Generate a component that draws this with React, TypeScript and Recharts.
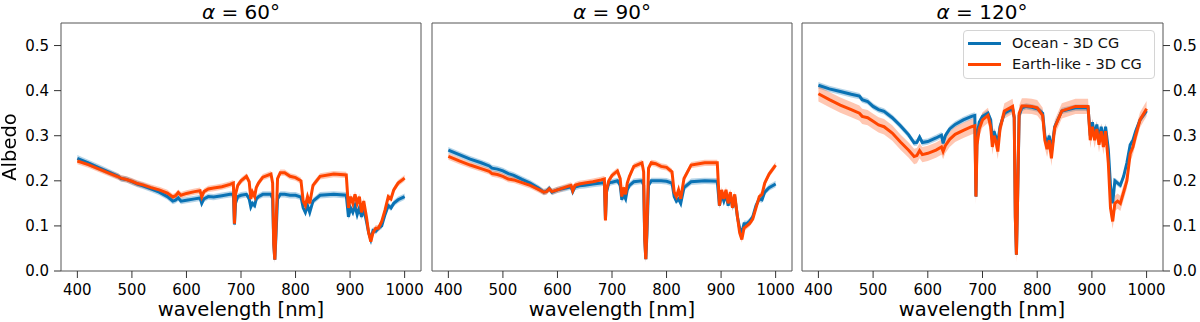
import React from 'react';
import { ComposedChart, Line, Area, XAxis, YAxis, ReferenceArea, Legend } from 'recharts';

// wavelength grid [nm], shared by every panel
const wavelength = [
    400, 420, 440, 460, 475, 480, 490, 500, 510, 520, 535, 550, 565, 575, 580, 585, 590, 600, 615, 625,
    628, 632, 640, 650, 665, 680, 686, 688, 690, 694, 700, 710, 715, 718, 721, 725, 728, 732, 740, 755,
    758, 760, 762, 764, 767, 772, 780, 790, 800, 810, 814, 818, 822, 826, 832, 845, 870, 893, 897, 901,
    905, 909, 913, 917, 921, 925, 930, 934, 938, 942, 947, 952, 958, 964, 970, 975, 980, 988, 1000,
];

// alpha = 60
const ocean60 = [
    0.250, 0.240, 0.229, 0.218, 0.210, 0.205, 0.203, 0.198, 0.193, 0.189, 0.182, 0.175, 0.165, 0.155, 0.157, 0.162, 0.155, 0.157, 0.160, 0.162,
    0.150, 0.160, 0.165, 0.164, 0.167, 0.170, 0.170, 0.103, 0.150, 0.165, 0.168, 0.170, 0.160, 0.142, 0.150, 0.145, 0.160, 0.165, 0.170, 0.170,
    0.160, 0.060, 0.025, 0.075, 0.160, 0.170, 0.170, 0.168, 0.168, 0.164, 0.140, 0.130, 0.145, 0.130, 0.155, 0.168, 0.170, 0.168, 0.120, 0.140,
    0.130, 0.145, 0.125, 0.140, 0.120, 0.138, 0.110, 0.085, 0.070, 0.090, 0.088, 0.095, 0.100, 0.125, 0.145, 0.140, 0.150, 0.158, 0.165,
];
const earth60 = [
    0.244, 0.236, 0.226, 0.216, 0.209, 0.206, 0.203, 0.199, 0.194, 0.191, 0.185, 0.180, 0.173, 0.164, 0.167, 0.174, 0.168, 0.172, 0.176, 0.178,
    0.164, 0.176, 0.182, 0.184, 0.187, 0.192, 0.195, 0.105, 0.170, 0.190, 0.200, 0.210, 0.198, 0.160, 0.175, 0.165, 0.185, 0.195, 0.208, 0.215,
    0.195, 0.060, 0.025, 0.090, 0.205, 0.218, 0.218, 0.210, 0.207, 0.200, 0.155, 0.145, 0.165, 0.150, 0.190, 0.210, 0.215, 0.213, 0.140, 0.165,
    0.150, 0.170, 0.150, 0.165, 0.130, 0.155, 0.120, 0.085, 0.065, 0.085, 0.095, 0.095, 0.110, 0.135, 0.165, 0.160, 0.180, 0.195, 0.206,
];

// alpha = 90
const ocean90 = [
    0.268, 0.258, 0.248, 0.240, 0.233, 0.228, 0.226, 0.222, 0.216, 0.212, 0.203, 0.195, 0.184, 0.175, 0.177, 0.183, 0.175, 0.180, 0.184, 0.187,
    0.176, 0.186, 0.189, 0.190, 0.193, 0.195, 0.196, 0.115, 0.175, 0.195, 0.197, 0.200, 0.190, 0.158, 0.170, 0.160, 0.180, 0.190, 0.198, 0.200,
    0.190, 0.070, 0.026, 0.080, 0.190, 0.200, 0.200, 0.200, 0.199, 0.195, 0.165, 0.155, 0.160, 0.150, 0.185, 0.198, 0.200, 0.199, 0.145, 0.170,
    0.155, 0.170, 0.145, 0.170, 0.140, 0.165, 0.120, 0.095, 0.085, 0.105, 0.105, 0.110, 0.120, 0.145, 0.160, 0.158, 0.175, 0.185, 0.193,
];
const earth90 = [
    0.254, 0.244, 0.235, 0.227, 0.221, 0.216, 0.214, 0.210, 0.204, 0.202, 0.196, 0.190, 0.181, 0.175, 0.176, 0.182, 0.176, 0.180, 0.186, 0.190,
    0.178, 0.190, 0.193, 0.195, 0.198, 0.202, 0.204, 0.112, 0.180, 0.200, 0.212, 0.222, 0.205, 0.165, 0.185, 0.170, 0.195, 0.210, 0.232, 0.240,
    0.220, 0.070, 0.026, 0.095, 0.228, 0.240, 0.238, 0.232, 0.230, 0.220, 0.175, 0.165, 0.180, 0.160, 0.205, 0.235, 0.240, 0.240, 0.145, 0.180,
    0.160, 0.180, 0.150, 0.175, 0.140, 0.170, 0.120, 0.085, 0.070, 0.095, 0.100, 0.105, 0.115, 0.140, 0.165, 0.170, 0.195, 0.215, 0.235,
];

// alpha = 120
const ocean120 = [
    0.412, 0.404, 0.398, 0.392, 0.388, 0.380, 0.376, 0.365, 0.358, 0.354, 0.340, 0.322, 0.302, 0.284, 0.285, 0.297, 0.285, 0.287, 0.295, 0.301,
    0.283, 0.300, 0.315, 0.325, 0.335, 0.343, 0.345, 0.165, 0.300, 0.330, 0.343, 0.350, 0.335, 0.290, 0.310, 0.295, 0.285, 0.320, 0.350, 0.360,
    0.340, 0.120, 0.036, 0.150, 0.345, 0.362, 0.365, 0.363, 0.360, 0.350, 0.300, 0.280, 0.300, 0.265, 0.320, 0.355, 0.362, 0.362, 0.300, 0.330,
    0.300, 0.325, 0.290, 0.320, 0.290, 0.320, 0.270, 0.190, 0.150, 0.200, 0.195, 0.190, 0.210, 0.240, 0.280, 0.290, 0.310, 0.335, 0.355,
];
const earth120 = [
    0.393, 0.380, 0.368, 0.358, 0.350, 0.343, 0.340, 0.332, 0.324, 0.320, 0.306, 0.286, 0.268, 0.254, 0.256, 0.267, 0.258, 0.261, 0.268, 0.275,
    0.265, 0.278, 0.292, 0.303, 0.312, 0.320, 0.322, 0.165, 0.280, 0.315, 0.335, 0.345, 0.320, 0.275, 0.300, 0.285, 0.265, 0.315, 0.355, 0.365,
    0.340, 0.120, 0.036, 0.150, 0.350, 0.366, 0.366, 0.365, 0.362, 0.345, 0.290, 0.270, 0.290, 0.250, 0.318, 0.355, 0.365, 0.365, 0.290, 0.320,
    0.290, 0.315, 0.280, 0.310, 0.275, 0.310, 0.240, 0.140, 0.110, 0.150, 0.155, 0.150, 0.175, 0.200, 0.260, 0.275, 0.300, 0.335, 0.360,
];

// half-width of the shaded spread, one per panel
const oceanSpread = [0.007, 0.007, 0.007];
const earthSpread = [0.007, 0.007, 0.017];

const phaseAngles = [60, 90, 120];
const xTicks = [400, 500, 600, 700, 800, 900, 1000];
const yTicks = [0, 0.1, 0.2, 0.3, 0.4, 0.5];

const BLUE = '#0a72b4';
const RED = '#ff4500';
const FONT = '"DejaVu Sans", sans-serif';
const tickStyle = { fontSize: 15, fill: '#000', fontFamily: FONT };

interface PanelProps {
    ocean: number[]
    earth: number[]
    oSpread: number
    eSpread: number
    side: 'left' | 'none' | 'right'
    legend?: boolean
}

const LegendBox = () => (
    <div style={{ width: 190, height: 47, border: '1px solid #d4d4d4', borderRadius: 4, background: 'rgba(255,255,255,0.8)', fontFamily: FONT, fontSize: 14.5 }}>
        {[['Ocean - 3D CG', BLUE], ['Earth-like - 3D CG', RED]].map(([name, c], i) => (
            <div key={name} style={{ position: 'absolute', left: 0, top: 3 + i * 21, height: 20, display: 'flex', alignItems: 'center' }}>
                <div style={{ marginLeft: 5, width: 33, height: 3, background: c }} />
                <span style={{ marginLeft: 11, color: '#111' }}>{name}</span>
            </div>
        ))}
    </div>
);

const Panel: React.FC<PanelProps> = ({ ocean, earth, oSpread, eSpread, side, legend }) => {
    const rows = wavelength.map((wl, i) => ({
        wl,
        ocean: ocean[i],
        earth: earth[i],
        oceanBand: [ocean[i] - oSpread, ocean[i] + oSpread],
        earthBand: [earth[i] - eSpread, earth[i] + eSpread],
    }));
    const width = side === 'left' ? 430 : side === 'right' ? 404 : 372;
    const margin = side === 'left'
        ? { top: 23, right: 9, bottom: 0, left: 0 }
        : { top: 23, right: side === 'right' ? 0 : 6, bottom: 0, left: 6 };
    return (
        <ComposedChart width={width} height={322} data={rows} margin={margin}>
            <XAxis dataKey="wl" type="number" domain={[370, 1030]} ticks={xTicks} allowDataOverflow
                axisLine={false} tickSize={7} tickMargin={6} height={51}
                tick={tickStyle} tickLine={{ stroke: '#333' }} />
            <YAxis type="number" domain={[0, 0.55]} ticks={yTicks} allowDataOverflow
                hide={side === 'none'} orientation={side === 'right' ? 'right' : 'left'}
                width={side === 'right' ? 37 : 61} axisLine={false} tickSize={7} tickMargin={side === 'right' ? 3 : 5}
                tick={tickStyle} tickLine={{ stroke: '#333' }} tickFormatter={(v: number) => v.toFixed(1)} />
            <ReferenceArea x1={370} x2={1030} y1={0} y2={0.55} fill="none" stroke="#555" strokeWidth={1} />
            <Area dataKey="oceanBand" type="linear" stroke="none" fill={BLUE} fillOpacity={0.3} isAnimationActive={false} />
            <Area dataKey="earthBand" type="linear" stroke="none" fill={RED} fillOpacity={0.3} isAnimationActive={false} />
            <Line dataKey="ocean" type="linear" stroke={BLUE} strokeWidth={3} dot={false} isAnimationActive={false} />
            <Line dataKey="earth" type="linear" stroke={RED} strokeWidth={3} dot={false} isAnimationActive={false} />
            {legend && (
                <Legend verticalAlign="middle" layout="horizontal" content={() => <LegendBox />}
                    wrapperStyle={{ left: 167, top: 30, width: 192, height: 49 }} />
            )}
        </ComposedChart>
    );
};

const plotCenters = [241, 612, 982];
const chartLefts = [0, 426, 796];
const data = [
    [ocean60, earth60],
    [ocean90, earth90],
    [ocean120, earth120],
];

export default function App() {
    return (
        <div style={{ position: 'fixed', left: 0, top: 0, width: 1200, height: 322, background: '#fff', fontFamily: FONT }}>
            {data.map(([o, e], i) => (
                <div key={i} style={{ position: 'absolute', left: chartLefts[i], top: 0 }}>
                    <Panel ocean={o} earth={e} oSpread={oceanSpread[i]} eSpread={earthSpread[i]}
                        side={i === 0 ? 'left' : i === 2 ? 'right' : 'none'} legend={i === 2} />
                </div>
            ))}
            {phaseAngles.map((a, i) => (
                <div key={a} style={{ position: 'absolute', left: plotCenters[i] - 100, width: 200, top: 0, height: 24, lineHeight: '24px', textAlign: 'center', fontSize: 20 }}>
                    <i>α</i> = {a}°
                </div>
            ))}
            {plotCenters.map((c, i) => (
                <div key={i} style={{ position: 'absolute', left: c - 100, width: 200, top: 298, height: 24, lineHeight: '24px', textAlign: 'center', fontSize: 19.5 }}>
                    wavelength [nm]
                </div>
            ))}
            <div style={{ position: 'absolute', left: 10 - 50, top: 147 - 12, width: 100, height: 24, lineHeight: '24px', textAlign: 'center', fontSize: 19.5, transform: 'rotate(-90deg)' }}>
                Albedo
            </div>
        </div>
    );
}
